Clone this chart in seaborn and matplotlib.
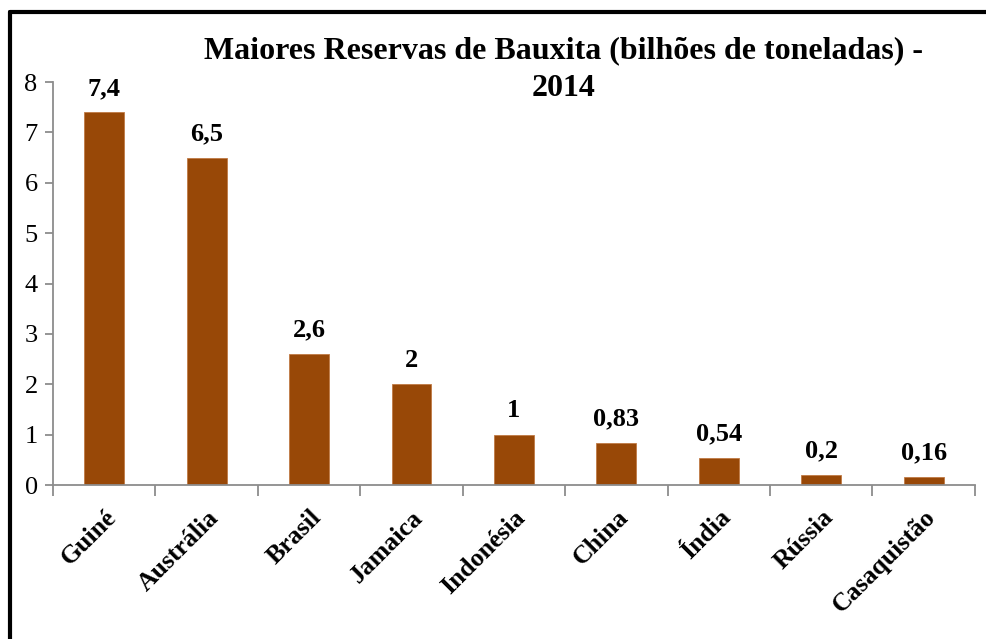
import pandas as pd
import numpy as np
import matplotlib
matplotlib.use("Agg")
import matplotlib.pyplot as plt
import seaborn as sns
from matplotlib.lines import Line2D

# dados
paises = ["Guiné", "Austrália", "Brasil", "Jamaica", "Indonésia",
          "China", "Índia", "Rússia", "Casaquistão"]
reservas = [7.4, 6.5, 2.6, 2.0, 1.0, 0.83, 0.54, 0.2, 0.16]
rotulos = ["7,4", "6,5", "2,6", "2", "1", "0,83", "0,54", "0,2", "0,16"]

df = pd.DataFrame({"Pais": paises, "Reserva": reservas})

sns.set_style("white")
plt.rcParams["font.family"] = ["Liberation Serif", "DejaVu Serif"]
plt.rcParams["text.color"] = "black"
plt.rcParams["xtick.color"] = "black"
plt.rcParams["ytick.color"] = "black"

fig = plt.figure(figsize=(9.87, 6.39), dpi=100)
ax = fig.add_axes([0.0537, 0.241, 0.934, 0.6305])

cinza = "#8c8c8c"
sns.barplot(data=df, x="Pais", y="Reserva", color="#984807", width=0.39,
            saturation=1, edgecolor="#c07a45", linewidth=0.6, ax=ax)

ax.set_xlim(-0.5, len(paises) - 0.5)
ax.set_ylim(0, 8)
ax.set_yticks(range(0, 9))
ax.set_xlabel("")
ax.set_ylabel("")

# ticks do eixo x entre as categorias
ax.set_xticks(np.arange(-0.5, len(paises), 1.0))
ax.set_xticklabels([])
ax.set_xticks(range(len(paises)), minor=True)
ax.set_xticklabels(paises, minor=True, rotation=45, ha="right",
                   rotation_mode="anchor", fontsize=18.5, fontweight="bold")
ax.tick_params(axis="x", which="major", bottom=True, direction="out",
               length=8, color=cinza, width=1.3)
ax.tick_params(axis="x", which="minor", bottom=True, length=0, pad=15)
ax.tick_params(axis="y", left=True, direction="out", length=6, color=cinza,
               width=1.3, labelsize=19, pad=5, labelcolor="black")

for s in ["top", "right"]:
    ax.spines[s].set_visible(False)
for s in ["left", "bottom"]:
    ax.spines[s].set_color(cinza)
    ax.spines[s].set_linewidth(1.3)

for i, (v, t) in enumerate(zip(reservas, rotulos)):
    ax.annotate(t, (i, v), xytext=(0, 9), textcoords="offset points",
                ha="center", va="bottom", fontsize=19, fontweight="bold")

fig.text(0.571, 0.891, "Maiores Reservas de Bauxita (bilhões de toneladas) -\n2014",
         ha="center", va="center", fontsize=23, fontweight="bold",
         linespacing=1.42)

# moldura
fig.add_artist(Line2D([0.0101, 1.0], [0.9805, 0.9805], color="black", lw=3,
                      transform=fig.transFigure))
fig.add_artist(Line2D([0.0101, 0.0101], [0.0, 0.9805], color="black", lw=3,
                      transform=fig.transFigure))

fig.savefig("out.png", dpi=100)
